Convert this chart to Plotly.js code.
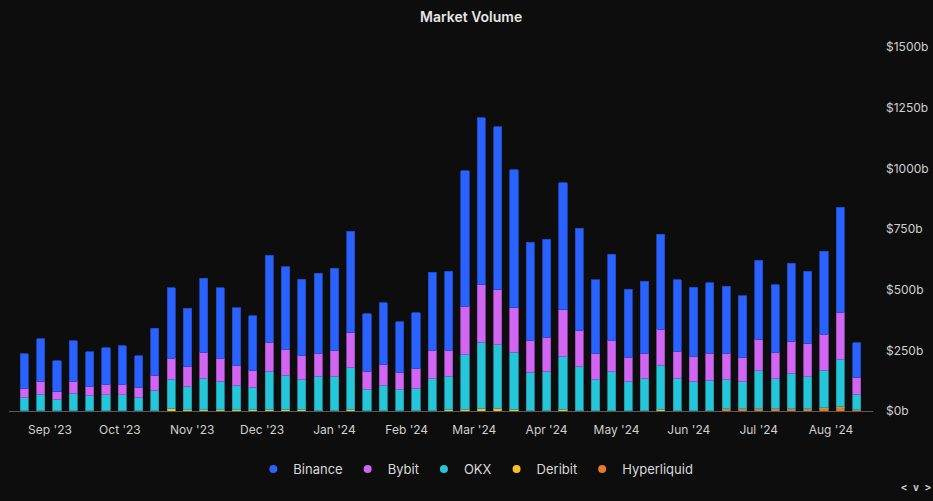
<!DOCTYPE html>
<html>
<head>
<meta charset="utf-8">
<script src="https://cdn.plot.ly/plotly-3.0.1.min.js"></script>
<style>
  html, body { margin: 0; padding: 0; background: #0d0d0d; }
  #chart { width: 933px; height: 501px; }
</style>
</head>
<body>
<div id="chart"></div>
<script>
// weekly buckets (week start)
var weeks = [
  '2023-08-21', '2023-08-28', '2023-09-04', '2023-09-11', '2023-09-18', '2023-09-25',
  '2023-10-02', '2023-10-09', '2023-10-16', '2023-10-23', '2023-10-30',
  '2023-11-06', '2023-11-13', '2023-11-20', '2023-11-27',
  '2023-12-04', '2023-12-11', '2023-12-18', '2023-12-25',
  '2024-01-01', '2024-01-08', '2024-01-15', '2024-01-22', '2024-01-29',
  '2024-02-05', '2024-02-12', '2024-02-19', '2024-02-26',
  '2024-03-04', '2024-03-11', '2024-03-18', '2024-03-25',
  '2024-04-01', '2024-04-08', '2024-04-15', '2024-04-22', '2024-04-29',
  '2024-05-06', '2024-05-13', '2024-05-20', '2024-05-27',
  '2024-06-03', '2024-06-10', '2024-06-17', '2024-06-24',
  '2024-07-01', '2024-07-08', '2024-07-15', '2024-07-22', '2024-07-29',
  '2024-08-05', '2024-08-12'
];

// volumes in $ billions
var binance = [142, 176, 127, 168, 142, 150, 158, 130, 195, 290, 240, 306, 290, 236, 224, 359, 339, 314, 331,
  339, 418, 236, 253, 208, 228, 322, 326, 560, 688, 672, 568, 404, 404, 523, 421, 302, 355,
  281, 298, 392, 294, 285, 290, 277, 253, 326, 277, 322, 298, 343, 433, 142];
var bybit = [37, 52, 31, 48, 40, 45, 45, 41, 61, 86, 82, 107, 94, 82, 70, 119, 107, 98, 94,
  107, 143, 74, 86, 70, 82, 115, 107, 197, 238, 224, 184, 131, 139, 193, 148, 107, 127,
  98, 102, 148, 111, 102, 111, 107, 102, 131, 111, 131, 135, 148, 193, 70];
var okx = [55, 68, 47, 72, 61, 64, 64, 55, 82, 121, 97, 130, 118, 102, 93, 159, 143, 126, 139,
  139, 172, 88, 103, 88, 90, 131, 138, 226, 273, 264, 235, 156, 160, 218, 180, 127, 160,
  121, 131, 181, 131, 121, 123, 122, 110, 155, 122, 147, 134, 155, 196, 64];
var deribit = [2, 2, 2, 2, 2, 2, 2, 2, 4, 10, 5, 5, 5, 5, 5, 5, 5, 5, 4,
  4, 8, 2, 4, 2, 4, 4, 5, 8, 10, 11, 7, 4, 4, 7, 4, 4, 4,
  2, 4, 8, 4, 2, 4, 1, 1, 1, 1, 1, 1, 4, 4, 1];
var hyperliquid = [0, 0, 0, 0, 0, 0, 0, 0, 0, 0, 0, 0, 0, 0, 0, 0, 0, 0, 0,
  0, 0, 0, 0, 0, 0, 0, 0, 0, 0, 0, 0, 0, 0, 0, 0, 0, 0,
  0, 0, 0, 0, 0, 0, 8, 9, 9, 9, 8, 8, 9, 13, 5];

var yTicks = [0, 250, 500, 750, 1000, 1250, 1500];
var yTickText = [];
for (var i = 0; i < yTicks.length; i++) {
  yTickText.push('$' + yTicks[i] + 'b');
}

// bottom of the stack first
var series = [
  {name: 'Hyperliquid', values: hyperliquid, color: '#e8792b', edge: '#b85a18'},
  {name: 'Deribit', values: deribit, color: '#fbbf24', edge: '#c79410'},
  {name: 'OKX', values: okx, color: '#26c6da', edge: '#1a97a6'},
  {name: 'Bybit', values: bybit, color: '#d166f3', edge: '#a348c2'},
  {name: 'Binance', values: binance, color: '#2962ff', edge: '#1d48c4'}
];

var data = [];
for (var i = 0; i < series.length; i++) {
  data.push({
    type: 'bar',
    name: series[i].name,
    legendgroup: series[i].name,
    showlegend: false,
    x: weeks,
    y: series[i].values,
    marker: {
      color: series[i].color,
      line: {color: series[i].edge, width: 0.8}
    },
    hovertemplate: '%{y}b<extra>' + series[i].name + '</extra>'
  });
}

// round legend markers, Binance first
for (var i = series.length - 1; i >= 0; i--) {
  data.push({
    type: 'scatter',
    mode: 'markers',
    name: series[i].name,
    legendgroup: series[i].name,
    x: [null],
    y: [null],
    marker: {color: series[i].color, size: 8, symbol: 'circle'},
    hoverinfo: 'skip'
  });
}

var layout = {
  width: 933,
  height: 501,
  paper_bgcolor: '#0d0d0d',
  plot_bgcolor: '#0d0d0d',
  font: {family: 'Inter, sans-serif', size: 12, color: '#d9d9d9'},
  barmode: 'stack',
  bargap: 0.5,
  margin: {l: 9, r: 60, t: 47, b: 90},
  title: {
    text: 'Market Volume',
    font: {size: 14, color: '#e6e6e6', weight: 600},
    x: 0.505,
    xref: 'container',
    y: 0.966,
    yref: 'container',
    yanchor: 'middle'
  },
  xaxis: {
    type: 'date',
    range: ['2023-08-14 10:00', '2024-08-19'],
    tick0: '2023-09-01',
    dtick: 'M1',
    tickformat: "%b '%y",
    showgrid: false,
    zeroline: false,
    showline: true,
    linecolor: '#5a5a5a',
    linewidth: 1,
    ticks: '',
    ticklabelstandoff: 8,
    tickfont: {size: 12, color: '#d0d0d0'},
    fixedrange: true
  },
  yaxis: {
    side: 'right',
    range: [0, 1500],
    tickmode: 'array',
    tickvals: yTicks,
    ticktext: yTickText,
    showgrid: false,
    zeroline: false,
    showline: false,
    ticks: '',
    ticklabelstandoff: 12,
    tickfont: {size: 12, color: '#d0d0d0'},
    fixedrange: true
  },
  legend: {
    orientation: 'h',
    xref: 'container',
    yref: 'container',
    x: 0.51,
    xanchor: 'center',
    y: 0.064,
    yanchor: 'middle',
    traceorder: 'normal',
    font: {size: 13, color: '#d9d9d9'},
    bgcolor: 'rgba(0,0,0,0)'
  },
  annotations: [{
    xref: 'paper',
    yref: 'paper',
    x: 1.069,
    y: -0.21,
    xanchor: 'right',
    yanchor: 'middle',
    text: '&lt; v &gt;',
    showarrow: false,
    font: {size: 10, color: '#d0d0d0', family: 'DejaVu Sans Mono, monospace', weight: 700}
  }]
};

Plotly.newPlot('chart', data, layout, {displayModeBar: false, responsive: false});
</script>
</body>
</html>
